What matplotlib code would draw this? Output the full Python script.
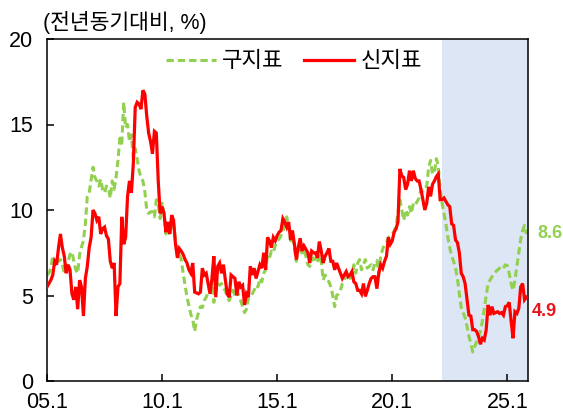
import numpy as np
import pandas as pd
import matplotlib
matplotlib.use("Agg")
import matplotlib.pyplot as plt

plt.rcParams['font.family'] = ['Liberation Sans', 'Noto Sans CJK KR', 'DejaVu Sans']

# Monthly year-on-year growth (%), 2005.1 onward
old_index = [
    6.2, 6.3, 6.6, 7.3, 6.8, 7.1, 7.0, 7.1, 6.8, 6.3, 6.6, 7.0,          # 2005
    7.4, 7.55, 7.0, 6.5, 6.3, 7.4, 7.85, 8.2, 9.2, 10.8, 11.0, 11.75,    # 2006
    12.5, 11.9, 11.7, 11.4, 11.8, 11.2, 11.0, 11.4, 11.3, 10.7, 11.7, 11.2,  # 2007
    11.9, 12.9, 14.2, 13.9, 16.3, 14.8, 15.0, 14.0, 14.4, 13.1, 13.6, 13.0,  # 2008
    12.3, 11.9, 11.7, 11.1, 10.0, 9.8, 9.9, 9.9, 9.6, 10.6, 10.3, 9.5,   # 2009
    10.4, 9.8, 8.6, 9.0, 8.5, 9.3, 9.2, 8.2, 7.6, 7.4, 7.1, 6.3,         # 2010
    5.6, 4.9, 4.4, 3.9, 3.6, 2.9, 3.6, 4.0, 4.35, 4.3, 4.7, 4.9,         # 2011
    5.2, 5.4, 5.7, 4.6, 5.3, 5.7, 5.6, 5.7, 5.4, 5.3, 4.9, 4.7,          # 2012
    5.0, 5.3, 5.0, 5.3, 5.0, 4.7, 4.35, 4.0, 4.2, 4.85, 4.9, 5.1,        # 2013
    5.3, 5.6, 5.5, 6.0, 5.8, 6.3, 6.5, 7.35, 7.2, 7.6, 7.5, 7.9,         # 2014
    8.2, 8.3, 8.5, 8.7, 9.2, 9.6, 9.0, 8.2, 8.5, 7.8, 7.0, 7.6,          # 2015
    8.0, 7.4, 7.6, 7.3, 6.8, 6.7, 7.0, 7.2, 7.1, 6.9, 7.4, 7.0,          # 2016
    5.9, 6.2, 6.0, 5.8, 5.5, 5.0, 4.35, 5.0, 5.1, 5.3, 5.7, 5.9,         # 2017
    6.2, 6.3, 6.0, 6.1, 6.8, 6.3, 6.9, 7.1, 6.5, 6.8, 7.1, 6.6,          # 2018
    6.7, 6.8, 6.5, 6.9, 7.05, 6.3, 7.3, 7.7, 8.0, 8.1, 8.4, 8.5,         # 2019
    8.6, 8.75, 9.1, 9.8, 10.6, 10.0, 9.4, 10.0, 9.7, 10.2, 9.8, 10.4,    # 2020
    10.3, 10.5, 10.7, 11.2, 11.1, 11.3, 11.4, 12.5, 12.9, 12.1, 12.2, 13.0,  # 2021
    12.6, 11.2, 10.4, 9.8, 9.2, 8.4, 7.8, 7.3, 7.0, 6.6, 6.0, 5.1,       # 2022
    4.3, 4.0, 3.7, 3.2, 2.6, 2.2, 1.7, 2.0, 2.3, 2.6, 2.9, 3.5,          # 2023
    4.2, 5.0, 5.7, 5.9, 6.1, 6.3, 6.4, 6.5, 6.6, 6.7, 6.6, 6.8,          # 2024
    6.75, 6.3, 5.7, 5.3, 5.9, 6.7, 7.5, 8.3, 8.8, 9.1, 8.6,              # 2025
]

new_index = [
    5.5, 5.7, 5.9, 6.2, 7.0, 6.8, 7.8, 8.6, 7.8, 7.3, 6.3, 6.8,          # 2005
    6.5, 5.1, 4.75, 5.5, 4.2, 5.9, 5.5, 3.8, 6.0, 6.7, 7.8, 8.4,         # 2006
    10.0, 9.8, 9.4, 9.6, 8.6, 8.9, 9.0, 8.5, 8.3, 7.0, 6.6, 6.9,         # 2007
    3.8, 5.5, 5.7, 9.6, 8.0, 8.4, 10.8, 11.7, 11.0, 12.7, 16.0, 16.3,    # 2008
    16.2, 15.9, 17.0, 16.8, 15.5, 14.5, 14.0, 13.3, 14.6, 14.5, 11.7, 9.8,  # 2009
    10.2, 9.8, 8.7, 9.3, 8.6, 9.7, 9.4, 8.0, 7.2, 7.75, 7.6, 7.4,        # 2010
    7.1, 6.9, 6.5, 6.3, 6.9, 5.2, 5.15, 5.1, 5.2, 6.6, 6.2, 6.3,         # 2011
    5.7, 5.1, 6.0, 7.3, 4.9, 6.7, 6.9, 6.3, 6.8, 5.9, 5.1, 4.9,          # 2012
    6.2, 6.1, 6.0, 5.0, 5.8, 5.5, 5.6, 4.45, 5.1, 4.9, 6.7, 6.2,         # 2013
    6.6, 6.0, 6.4, 6.8, 6.6, 7.5, 6.5, 8.4, 8.2, 7.8, 8.4, 8.2,          # 2014
    8.5, 8.7, 8.8, 9.5, 9.3, 9.0, 9.3, 8.25, 8.8, 8.0, 7.1, 7.8,         # 2015
    8.35, 7.6, 7.9, 7.7, 7.5, 6.9, 7.6, 7.5, 7.5, 7.2, 8.15, 7.6,        # 2016
    6.9, 7.3, 7.5, 7.75, 7.0, 7.0, 6.5, 6.9, 6.6, 6.3, 6.0, 6.2,         # 2017
    6.4, 6.1, 6.2, 6.4, 5.8, 5.7, 5.3, 5.3, 5.1, 5.7, 4.95, 5.3,         # 2018
    5.7, 6.0, 6.1, 6.1, 5.4, 6.3, 6.8, 6.6, 7.0, 7.3, 8.4, 8.0,          # 2019
    8.2, 8.7, 8.9, 9.3, 12.4, 12.0, 11.9, 11.2, 11.5, 12.3, 11.7, 12.3,  # 2020
    11.85, 11.7, 11.7, 11.2, 10.6, 10.0, 10.4, 11.35, 10.8, 11.5, 11.7, 11.95,  # 2021
    12.1, 10.6, 10.6, 10.7, 10.5, 10.3, 10.2, 9.2, 9.1, 8.25, 8.1, 7.5,  # 2022
    6.3, 6.1, 5.7, 4.75, 3.85, 3.8, 3.0, 3.0, 2.9, 2.6, 2.15, 2.5,       # 2023
    2.4, 3.0, 4.45, 3.85, 4.35, 3.95, 4.0, 4.05, 3.95, 4.0, 3.85, 4.35,  # 2024
    4.4, 4.6, 3.5, 2.5, 4.05, 3.95, 4.25, 5.5, 5.7, 4.75, 4.9,           # 2025
]

series_labels = ["구지표", "신지표"]
tick_labels = ["05.1", "10.1", "15.1", "20.1", "25.1"]
tick_months = ["2005-01", "2010-01", "2015-01", "2020-01", "2025-01"]
shade_from = "2022-03"
unit_text = "(전년동기대비, %)"

months = pd.period_range("2005-01", periods=len(new_index), freq="M")
pos = np.arange(len(months))
month_pos = {str(p): i for i, p in enumerate(months)}

GREEN = "#92D050"
RED = "#FF0000"

fig = plt.figure(figsize=(5.63, 4.16), dpi=100)
ax = fig.add_axes([47 / 563, 1 - 381 / 416, (528 - 47) / 563, (381 - 39) / 416])

x_right = 250.8
ax.axvspan(month_pos[shade_from], x_right, color="#DCE6F4", zorder=0, lw=0)

ax.plot(pos, old_index, color=GREEN, lw=2.2, dashes=(2.4, 1.3),
        dash_capstyle="butt", label=series_labels[0], zorder=2)
ax.plot(pos, new_index, color=RED, lw=2.3, solid_joinstyle="miter",
        label=series_labels[1], zorder=3)

ax.set_xlim(0, x_right)
ax.set_ylim(0, 20)
ax.set_yticks([0, 5, 10, 15, 20])
ax.set_xticks([month_pos[m] for m in tick_months])
ax.set_xticklabels(tick_labels)

for s in ax.spines.values():
    s.set_linewidth(1.1)
    s.set_color("black")
ax.tick_params(direction="in", length=5, width=1.1, labelsize=15.5, pad=8)
ax.tick_params(axis="y", pad=10)

ax.legend(loc="center", bbox_to_anchor=(0.513, 0.933), ncol=2, frameon=False,
          fontsize=16, handlelength=2.25, handletextpad=0.3,
          columnspacing=0.9, borderpad=0, borderaxespad=0)

fig.text(43 / 563, 1 - 22 / 416, unit_text, fontsize=15.5, va="center", ha="left")

ax.annotate(f"{old_index[-1]:.1f}", xy=(pos[-1], old_index[-1]), xytext=(7.5, 0),
            textcoords="offset points", va="center", ha="left", color=GREEN,
            fontsize=13, fontweight="bold", annotation_clip=False)
ax.annotate(f"{new_index[-1]:.1f}", xy=(pos[-1], new_index[-1]), xytext=(4, -10),
            textcoords="offset points", va="center", ha="left", color="#E8141B",
            fontsize=13, fontweight="bold", annotation_clip=False)

fig.savefig("out.png", dpi=100)
